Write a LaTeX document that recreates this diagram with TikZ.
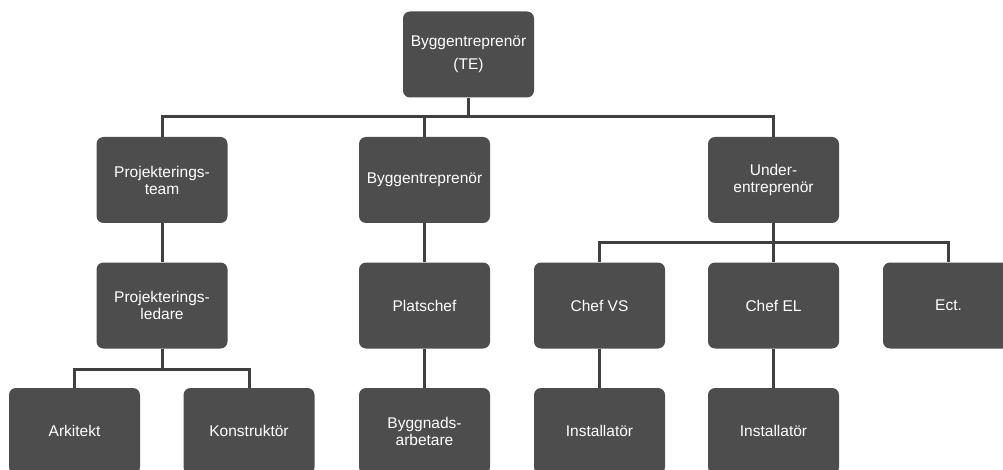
\documentclass[tikz,border=0pt]{standalone}
\usepackage{fontspec}
\setmainfont{Liberation Sans}
\definecolor{boxgray}{HTML}{4D4D4D}
\definecolor{linegray}{HTML}{404040}
\tikzset{
  orgbox/.style={fill=boxgray, draw=none, rounded corners=7pt, minimum width=131pt, minimum height=86pt, inner sep=0pt, text=white, align=center, font=\fontsize{15.5}{17}\selectfont},
  conn/.style={draw=linegray, line width=3pt}
}
\begin{document}
\begin{tikzpicture}[x=1pt,y=-1pt]
\useasboundingbox (0,0) rectangle (1003,470);
\clip (0,0) rectangle (1003,470);
% nodes
\node[orgbox] (te) at (468.5,54.5) {Byggentreprenör\\[6pt](TE)};
\node[orgbox] (pt) at (162,180) {Projekterings-\\team};
\node[orgbox] (be) at (424.5,180) {Byggentreprenör};
\node[orgbox] (ue) at (773.5,180) {Under-\\entreprenör};
\node[orgbox] (pl) at (162,305.5) {Projekterings-\\ledare};
\node[orgbox] (pc) at (424.5,305.5) {Platschef};
\node[orgbox] (vs) at (599.5,305.5) {Chef VS};
\node[orgbox] (el) at (773.5,305.5) {Chef EL};
\node[orgbox] (ec) at (948.5,305.5) {Ect.};
\node[orgbox] (ar) at (74.5,431) {Arkitekt};
\node[orgbox] (ko) at (249,431) {Konstruktör};
\node[orgbox] (ba) at (424.5,431) {Byggnads-\\arbetare};
\node[orgbox] (i1) at (599.5,431) {Installatör};
\node[orgbox] (i2) at (773.5,431) {Installatör};
% bus coordinates
\coordinate (bus1) at (0,117);
\coordinate (bus2) at (0,243);
\coordinate (bus3) at (0,369);
% connectors
\draw[conn] (te.south) -- (te.south |- bus1);
\draw[conn] (pt.north) -- (pt.north |- bus1) -| (ue.north);
\draw[conn] (be.north) -- (be.north |- bus1);
\draw[conn] (pt.south) -- (pl.north);
\draw[conn] (be.south) -- (pc.north);
\draw[conn] (pc.south) -- (ba.north);
\draw[conn] (ue.south) -- (el.north);
\draw[conn] (vs.north) -- (vs.north |- bus2) -| (ec.north);
\draw[conn] (vs.south) -- (i1.north);
\draw[conn] (el.south) -- (i2.north);
\draw[conn] (pl.south) -- (pl.south |- bus3);
\draw[conn] (ar.north) -- (ar.north |- bus3) -| (ko.north);
\end{tikzpicture}
\end{document}
